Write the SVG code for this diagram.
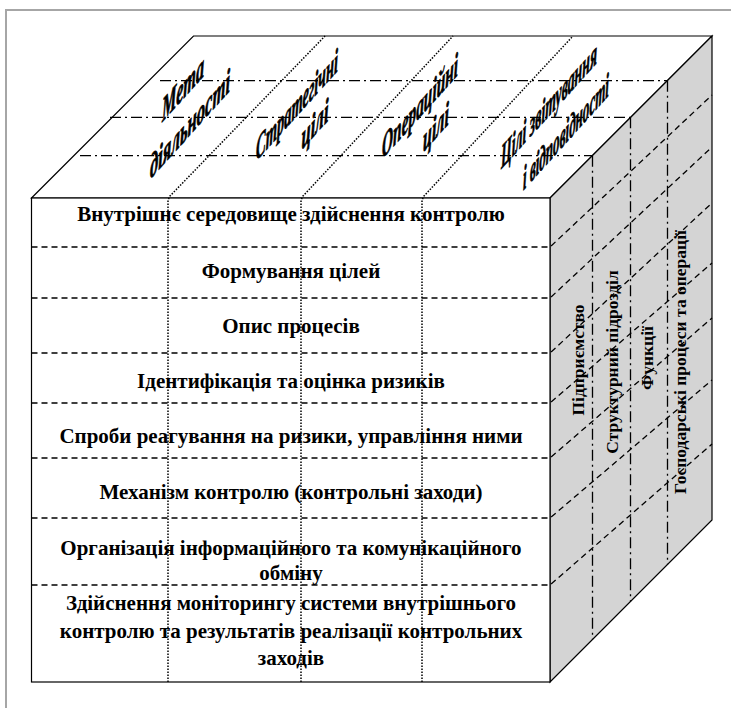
<svg xmlns="http://www.w3.org/2000/svg" width="731" height="708" viewBox="0 0 731 708">
<defs>
<style>
.edge{stroke:#000;stroke-width:1.2}
.dash{fill:none;stroke:#000;stroke-width:1.3;stroke-dasharray:6 4}
.dashdot{fill:none;stroke:#000;stroke-width:1.3;stroke-dasharray:11 4 2 4}
.dot{fill:none;stroke:#000;stroke-width:1.5;stroke-dasharray:1.5 1.5}
.row{font-family:"Liberation Serif","Times New Roman",serif;font-weight:bold;font-size:21px;text-anchor:middle;fill:#000}
.side{font-family:"Liberation Serif","Times New Roman",serif;font-weight:bold;font-size:17.5px;text-anchor:middle;fill:#000}
.top{font-family:"Liberation Serif","Times New Roman",serif;font-style:italic;font-weight:bold;font-size:34px;text-anchor:middle;fill:#000;stroke:#000;stroke-width:0.9}
</style>
</defs>
<rect x="0" y="0" width="731" height="708" fill="#fff"/>
<rect id="frame" x="6" y="10" width="740" height="720" fill="#fff" stroke="#a6a6a6" stroke-width="2"/>
<g id="faces">
<polygon id="top-face" points="31.5,198 193.5,36 712,36 550,198" style="fill:#fff" class="edge"/>
<polygon id="right-face" points="550,198 712,36 712,520 550,682" style="fill:#d4d4d4" class="edge"/>
<rect id="front-face" x="31.5" y="198" width="518.5" height="484" style="fill:#fff" class="edge"/>
</g>
<g id="connectors">
<line class="dashdot" x1="160" y1="80.7" x2="667.5" y2="80.7"/>
<line class="dashdot" x1="110" y1="117.3" x2="630.5" y2="117.3"/>
<line class="dashdot" x1="80" y1="155.7" x2="592.5" y2="155.7"/>
<line class="dashdot" x1="592.5" y1="155.7" x2="592.5" y2="639.5"/>
<line class="dashdot" x1="630.5" y1="117.3" x2="630.5" y2="601.5"/>
<line class="dashdot" x1="667.5" y1="80.7" x2="667.5" y2="564.5"/>
<polyline class="dash" points="31.5,247 550,247 712,95"/>
<polyline class="dash" points="31.5,298 550,298 712,147"/>
<polyline class="dash" points="31.5,353 550,353 712,203"/>
<polyline class="dash" points="31.5,403 550,403 712,263"/>
<polyline class="dash" points="31.5,458 550,458 712,318"/>
<polyline class="dash" points="31.5,518 550,518 712,380"/>
<polyline class="dash" points="31.5,585 550,585 712,444"/>
<polyline class="dot" points="168,682 168,200 170,196 325,36"/>
<polyline class="dot" points="301,682 301,200 303,196 453,36"/>
<polyline class="dot" points="422,682 422,200 424,196 573,36"/>
</g>
<g id="top-labels">
<g id="t-meta"><text class="top" transform="translate(183,99) skewY(-48)" textLength="42" lengthAdjust="spacingAndGlyphs">Мета</text><text class="top" transform="translate(190,135) skewY(-48)" textLength="80" lengthAdjust="spacingAndGlyphs">діяльності</text></g>
<g id="t-strat"><text class="top" transform="translate(297,116) skewY(-48)" textLength="82" lengthAdjust="spacingAndGlyphs">Стратегічні</text><text class="top" transform="translate(315,135) skewY(-48)" textLength="27" lengthAdjust="spacingAndGlyphs">цілі</text></g>
<g id="t-oper"><text class="top" transform="translate(420,117) skewY(-48)" textLength="76" lengthAdjust="spacingAndGlyphs">Операційні</text><text class="top" transform="translate(436,138) skewY(-48)" textLength="26" lengthAdjust="spacingAndGlyphs">цілі</text></g>
<g id="t-report"><text class="top" transform="translate(549,116) skewY(-48)" textLength="96" lengthAdjust="spacingAndGlyphs">Цілі звітування</text><text class="top" transform="translate(566,143) skewY(-48)" textLength="86" lengthAdjust="spacingAndGlyphs">і відповідності</text></g>
</g>
<g id="rows">
<g id="r1"><text class="row" x="291" y="221">Внутрішнє середовище здійснення контролю</text></g>
<g id="r2"><text class="row" x="291" y="278">Формування цілей</text></g>
<g id="r3"><text class="row" x="291" y="333">Опис процесів</text></g>
<g id="r4"><text class="row" x="291" y="388">Ідентифікація та оцінка ризиків</text></g>
<g id="r5"><text class="row" x="291" y="443">Спроби реагування на ризики, управління ними</text></g>
<g id="r6"><text class="row" x="291" y="499">Механізм контролю (контрольні заходи)</text></g>
<g id="r7"><text class="row" x="291" y="555">Організація інформаційного та комунікаційного</text><text class="row" x="291" y="580">обміну</text></g>
<g id="r8"><text class="row" x="291" y="610">Здійснення моніторингу системи внутрішнього</text><text class="row" x="291" y="638">контролю та результатів реалізації контрольних</text><text class="row" x="291" y="665">заходів</text></g>
</g>
<g id="side-labels">
<g id="s1"><text class="side" transform="translate(584,360) rotate(-90)">Підприємство</text></g>
<g id="s2"><text class="side" transform="translate(618,362) rotate(-90)">Структурний підрозділ</text></g>
<g id="s3"><text class="side" transform="translate(653,358) rotate(-90)">Функції</text></g>
<g id="s4"><text class="side" transform="translate(686,362) rotate(-90)">Господарські процеси та операції</text></g>
</g>
</svg>
